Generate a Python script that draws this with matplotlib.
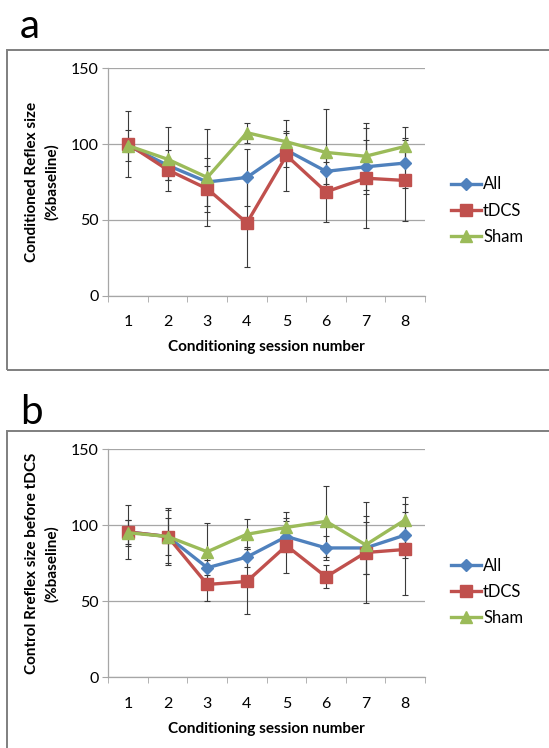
import matplotlib
matplotlib.use('Agg')
import matplotlib.pyplot as plt
from matplotlib.patches import Rectangle

plt.rcParams['font.family'] = ['Lato', 'DejaVu Sans']

sessions = [1, 2, 3, 4, 5, 6, 7, 8]
series_names = ['All', 'tDCS', 'Sham']

# panel a: conditioned reflex size (% baseline)
a_all = [99, 86, 75, 78, 96, 82, 85, 87.5]
a_tdcs = [100, 83, 70.5, 48, 92.5, 68.5, 77.5, 76]
a_sham = [99, 90, 78, 107.5, 101.5, 94.5, 92, 98.5]
a_all_err = [10, 10, 16, 19, 11, 8.5, 18, 16.5]
a_tdcs_err = [21.5, 6.5, 15, 29, 23.5, 20, 33, 27]
a_sham_err = [4, 21, 32, 6.5, 7, 28.5, 22, 13]

# panel b: control reflex size before tDCS (% baseline)
b_all = [95.5, 92.5, 72, 79, 92.5, 85, 85, 93.5]
b_tdcs = [95.5, 92.5, 61, 63, 86.5, 66, 82, 84]
b_sham = [95, 92.5, 82.5, 94, 98.5, 102.5, 87, 103.5]
b_all_err = [8, 12, 5, 6.5, 10, 8, 17, 15]
b_tdcs_err = [18, 19, 11, 21.5, 18, 7.5, 33, 30]
b_sham_err = [8.5, 17.5, 19, 10, 10, 23.5, 19, 15]

colors = ['#4F81BD', '#C0504D', '#9BBB59']
markers = ['D', 's', '^']
marker_sizes = [6, 8, 8]
grid_color = '#A6A6A6'


def draw_panel(fig, rect, values, errors, ylabel, legend_y):
    ax = fig.add_axes(rect)
    handles = []
    for name, vals, errs, color, marker, size in zip(series_names, values, errors, colors, markers, marker_sizes):
        ax.errorbar(sessions, vals, yerr=errs, fmt='none', ecolor='#3A3A3A',
                    elinewidth=0.8, capsize=2.5, capthick=0.8, zorder=2)
        line, = ax.plot(sessions, vals, color=color, marker=marker, markersize=size,
                        linewidth=2.4, label=name, zorder=3)
        handles.append(line)
    ax.set_xlim(0.5, 8.5)
    ax.set_ylim(0, 150)
    ax.set_yticks([0, 50, 100, 150])
    ax.set_xticks(sessions)
    ax.set_xticks([s + 0.5 for s in [0] + sessions], minor=True)
    ax.tick_params(axis='x', which='major', length=0, pad=14, labelsize=11.5)
    ax.tick_params(axis='x', which='minor', length=4, color=grid_color)
    ax.tick_params(axis='y', length=4, color=grid_color, labelsize=11.5, pad=3)
    ax.grid(axis='y', color=grid_color, linewidth=0.9)
    ax.set_axisbelow(True)
    for side in ['top', 'right']:
        ax.spines[side].set_visible(False)
    for side in ['left', 'bottom']:
        ax.spines[side].set_color(grid_color)
        ax.spines[side].set_linewidth(0.9)
    ax.set_ylabel(ylabel, fontsize=11, fontweight='bold', labelpad=8, linespacing=1.5)
    ax.set_xlabel('Conditioning session number', fontsize=11, fontweight='bold', labelpad=8)
    fig.legend(handles=handles, loc='center left', bbox_to_anchor=(0.807, legend_y),
               frameon=False, fontsize=12, handlelength=1.75, handletextpad=0.15,
               labelspacing=0.62, borderpad=0)
    return ax


fig = plt.figure(figsize=(5.49, 7.48), dpi=100)

for top, bottom in [(0.9332, 0.5053), (0.4238, -0.02)]:
    fig.patches.append(Rectangle((0.0128, bottom), 1.05, top - bottom, transform=fig.transFigure,
                                 fill=False, edgecolor='#7F7F7F', linewidth=1.4, clip_on=False))

draw_panel(fig, [0.1973, 0.6047, 0.5769, 0.3040],
           [a_all, a_tdcs, a_sham], [a_all_err, a_tdcs_err, a_sham_err],
           'Conditioned Reflex size\n(%baseline)', 0.7183)
draw_panel(fig, [0.1973, 0.0945, 0.5769, 0.3052],
           [b_all, b_tdcs, b_sham], [b_all_err, b_tdcs_err, b_sham_err],
           'Control Rreflex size before tDCS\n(%baseline)', 0.2086)

fig.text(0.036, 0.949, 'a', fontsize=29)
fig.text(0.036, 0.433, 'b', fontsize=29)

fig.savefig('out.png', dpi=100)
